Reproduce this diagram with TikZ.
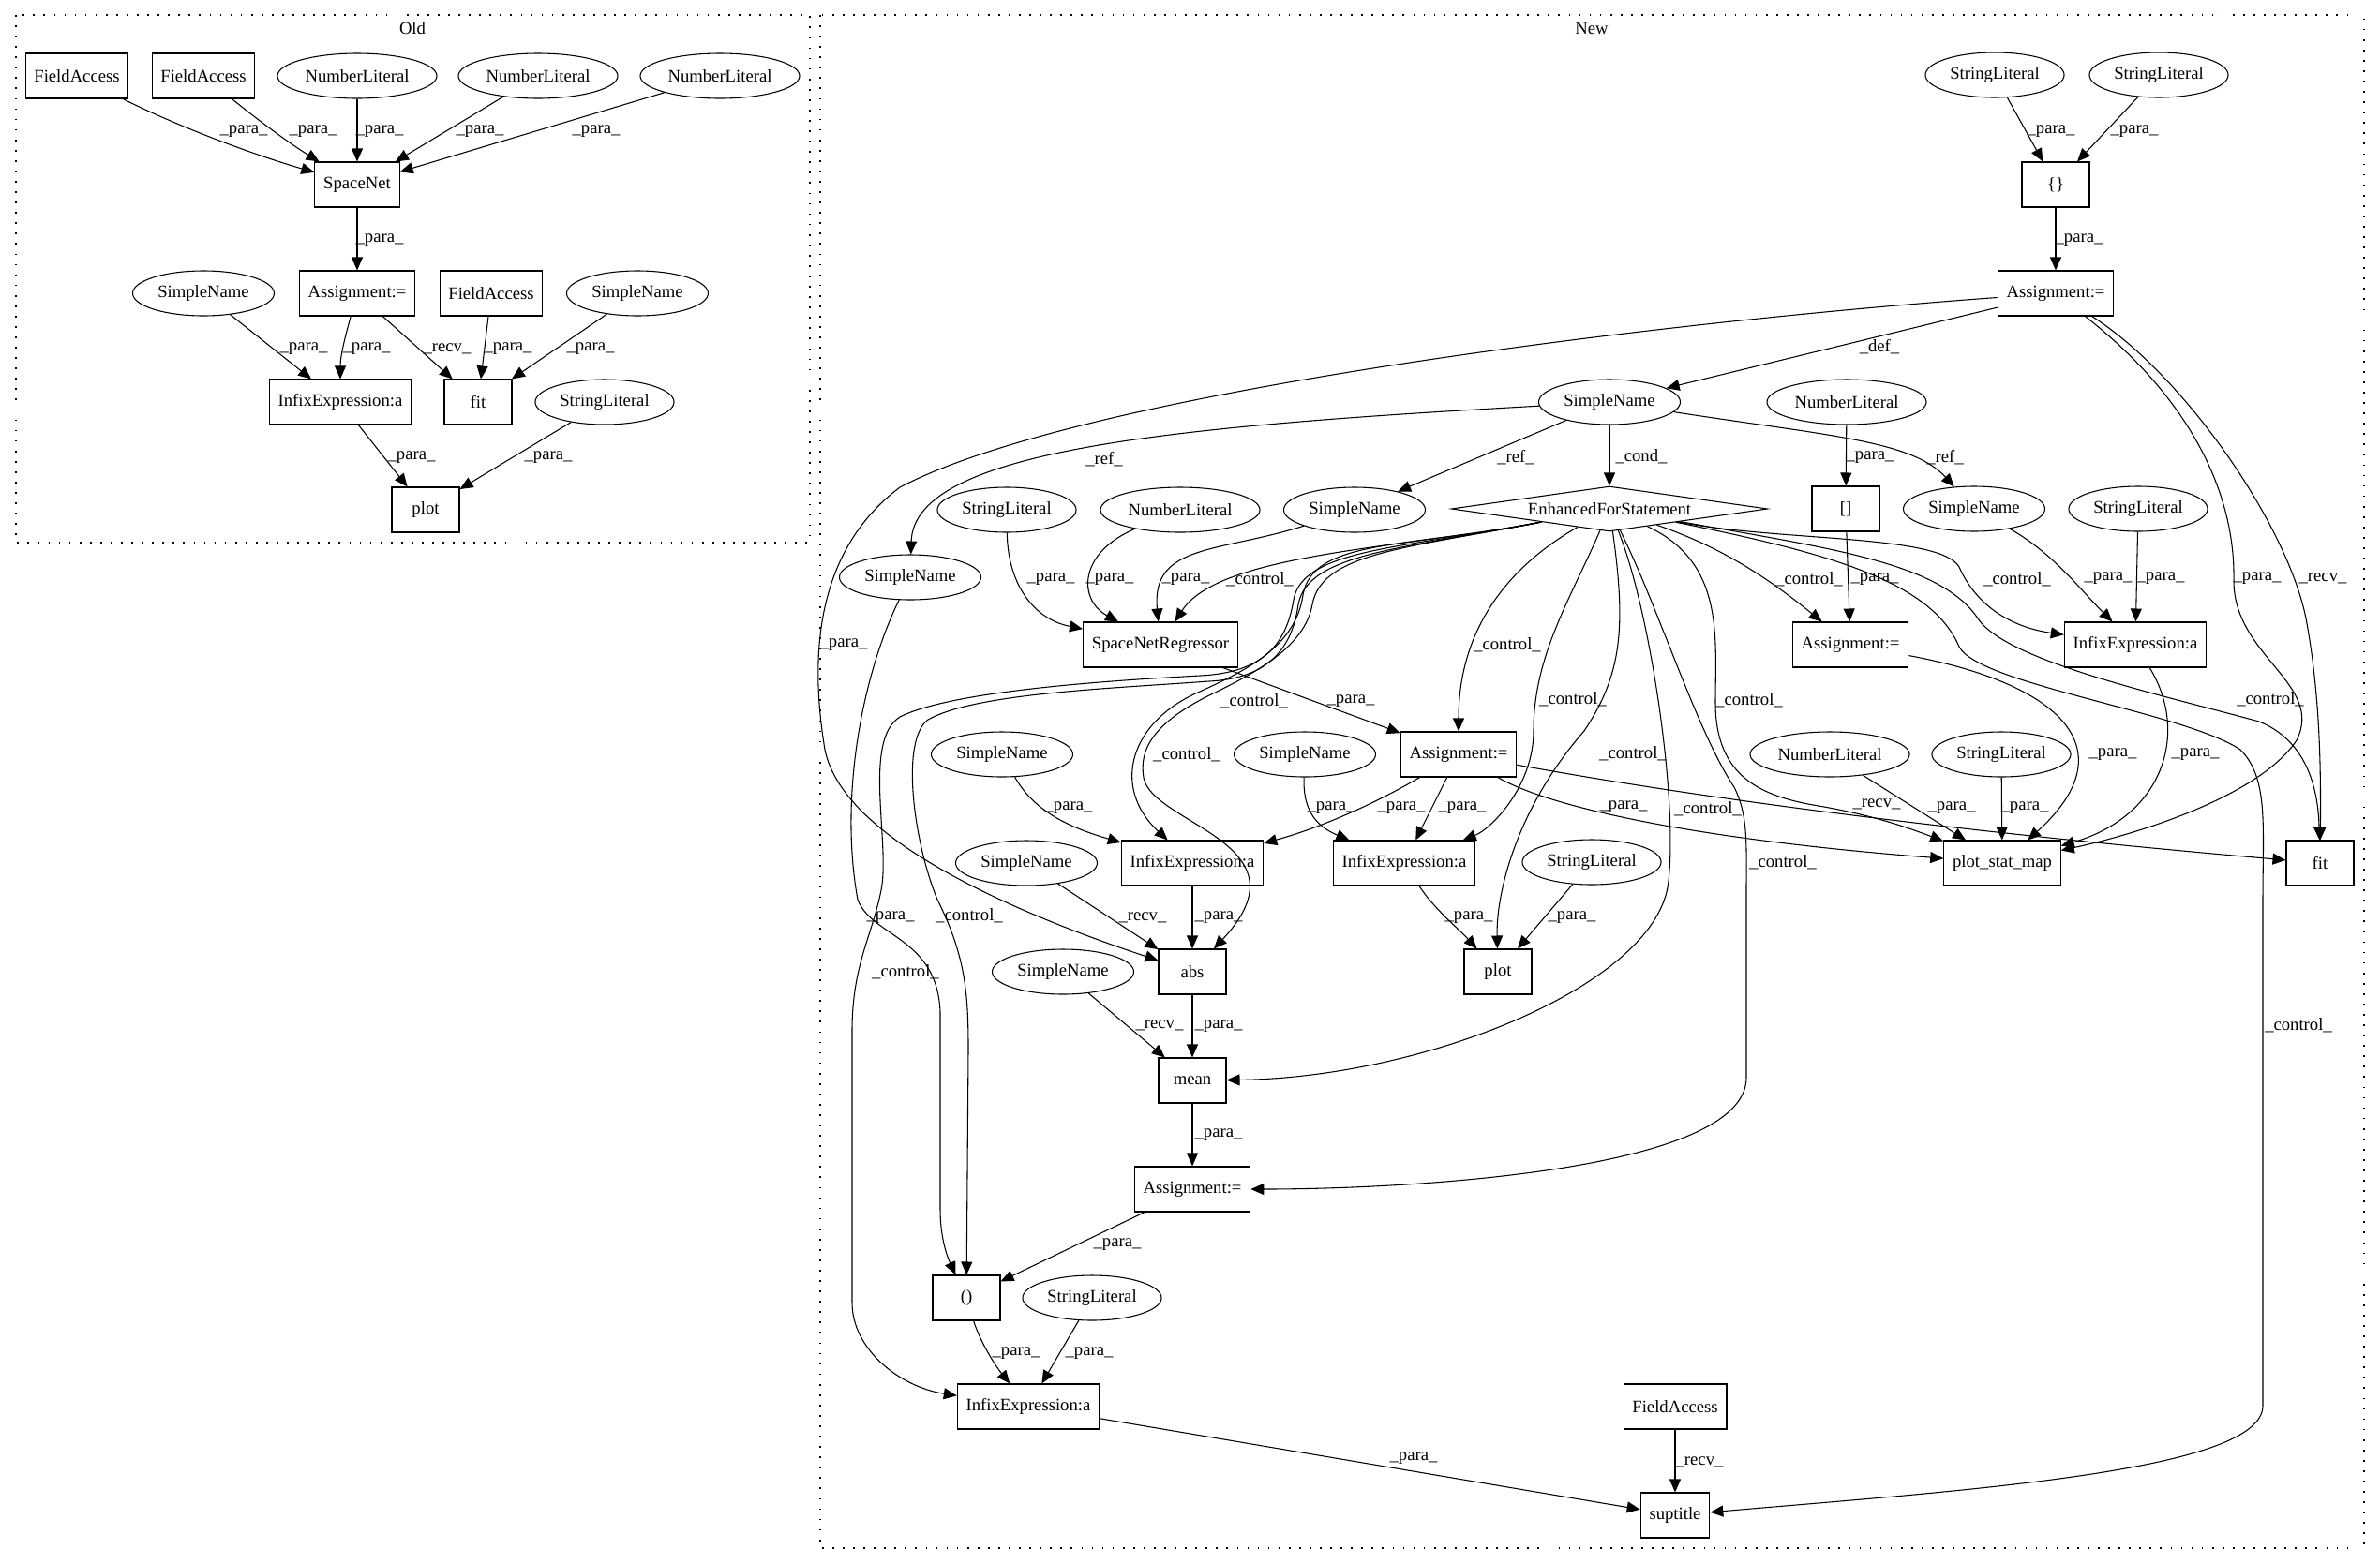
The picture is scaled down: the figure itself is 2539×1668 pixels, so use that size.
\documentclass[tikz,border=0pt]{standalone}
\usepackage{fontspec}
\setmainfont{Liberation Serif}
\usetikzlibrary{shapes.geometric, arrows.meta}
\tikzstyle{box} = [rectangle, draw, line width=0.8pt, minimum width=54pt, minimum height=36pt, inner xsep=7pt]
\tikzstyle{oval} = [ellipse, draw, line width=0.8pt, minimum height=36pt, inner xsep=3.5pt]
\tikzstyle{forstmt} = [diamond, draw, line width=0.8pt, aspect=7, inner sep=0pt, minimum width=253pt, minimum height=36pt]
\tikzstyle{arrow} = [line width=0.8pt, -{Triangle[length=10.5pt,width=9pt]}]
\tikzstyle{lbl} = [inner sep=0pt]
\tikzstyle{cluster} = [draw, line width=1pt, dash pattern=on 1.3pt off 7pt]
\begin{document}
\begin{tikzpicture}[x=0.75pt, y=-0.75pt, font=\fontsize{14}{16}\selectfont]
  \useasboundingbox (0,0) rectangle (2539,1668);

  \draw [cluster] (17,16) rectangle (864,579);
  \node (oldLbl) at (440,30) {Old};
  \draw [cluster] (875,16) rectangle (2522,1652);
  \node (newLbl) at (1698,30) {New};

  \node (oFA1) [box] at (82,81) {FieldAccess};
  \node (oFA2) [box] at (217,81) {FieldAccess};
  \node (oNL1) [oval] at (381,81) {NumberLiteral};
  \node (oNL2) [oval] at (574,81) {NumberLiteral};
  \node (oNL3) [oval] at (768,81) {NumberLiteral};
  \node (oSpaceNet) [box] at (381,197) {SpaceNet};
  \node (oSN1) [oval] at (217,313) {SimpleName};
  \node (oAssign) [box] at (381,313) {Assignment:=};
  \node (oFA3) [box] at (524,313) {FieldAccess};
  \node (oSN2) [oval] at (680,313) {SimpleName};
  \node (oInfix) [box] at (363,429) {InfixExpression:a};
  \node (oFit) [box] at (510,429) {fit};
  \node (oSL) [oval] at (645,429) {StringLiteral};
  \node (oPlot) [box] at (454,544) {plot};

  \draw [arrow] (oFA1) .. controls (190,135) and (270,165) .. (oSpaceNet) node [lbl, at={(260,140)}] {\_para\_};
  \draw [arrow] (oFA2) .. controls (290,140) and (320,160) .. (oSpaceNet) node [lbl, at={(334,140)}] {\_para\_};
  \draw [arrow] (oNL1) -- (oSpaceNet) node [lbl, at={(405,140)}] {\_para\_};
  \draw [arrow] (oNL2) -- (oSpaceNet) node [lbl, at={(512,140)}] {\_para\_};
  \draw [arrow] (oNL3) -- (oSpaceNet) node [lbl, at={(636,140)}] {\_para\_};
  \draw [arrow] (oSpaceNet) -- (oAssign) node [lbl, at={(405,256)}] {\_para\_};
  \draw [arrow] (oSN1) -- (oInfix) node [lbl, at={(324,372)}] {\_para\_};
  \draw [arrow] (oAssign) .. controls (368,360) and (363,380) .. (oInfix) node [lbl, at={(391,372)}] {\_para\_};
  \draw [arrow] (oAssign) -- (oFit) node [lbl, at={(477,372)}] {\_recv\_};
  \draw [arrow] (oFA3) -- (oFit) node [lbl, at={(542,372)}] {\_para\_};
  \draw [arrow] (oSN2) -- (oFit) node [lbl, at={(630,372)}] {\_para\_};
  \draw [arrow] (oInfix) -- (oPlot) node [lbl, at={(439,488)}] {\_para\_};
  \draw [arrow] (oSL) -- (oPlot) node [lbl, at={(585,488)}] {\_para\_};

  \node (nSL1) [oval] at (2128,80) {StringLiteral};
  \node (nSL2) [oval] at (2303,80) {StringLiteral};
  \node (nBrace) [box] at (2193,197) {\{\}};
  \node (nAssignTop) [box] at (2193,313) {Assignment:=};
  \node (nDef) [oval] at (1717,429) {SimpleName};
  \node (nNLtop) [oval] at (1970,429) {NumberLiteral};
  \node (nEFS) [forstmt] at (1717,543) {EnhancedForStatement};
  \node (nBracket) [box] at (1969,543) {[]};
  \node (nSNr) [oval] at (2106,543) {SimpleName};
  \node (nSLr) [oval] at (2281,543) {StringLiteral};
  \node (nSLl) [oval] at (1074,544) {StringLiteral};
  \node (nNLl) [oval] at (1259,544) {NumberLiteral};
  \node (nSNm) [oval] at (1445,544) {SimpleName};
  \node (nSNleft) [oval] at (971,616) {SimpleName};
  \node (nSNR) [box] at (1238,688) {SpaceNetRegressor};
  \node (nAssignR) [box] at (1974,688) {Assignment:=};
  \node (nInfixR) [box] at (2278,688) {InfixExpression:a};
  \node (nSNa) [oval] at (1069,805) {SimpleName};
  \node (nSNb) [oval] at (1392,805) {SimpleName};
  \node (nAssignM) [box] at (1556,805) {Assignment:=};
  \node (nNLp) [oval] at (1952,805) {NumberLiteral};
  \node (nSLp) [oval] at (2135,805) {StringLiteral};
  \node (nSNc) [oval] at (1095,921) {SimpleName};
  \node (nInfixL) [box] at (1272,921) {InfixExpression:a};
  \node (nInfixM) [box] at (1498,921) {InfixExpression:a};
  \node (nSLq) [oval] at (1698,920) {StringLiteral};
  \node (nPSM) [box] at (2136,921) {plot\_stat\_map};
  \node (nFit) [box] at (2475,921) {fit};
  \node (nSNd) [oval] at (1134,1037) {SimpleName};
  \node (nAbs) [box] at (1272,1037) {abs};
  \node (nPlot) [box] at (1598,1037) {plot};
  \node (nMean) [box] at (1272,1153) {mean};
  \node (nAssignL) [box] at (1272,1269) {Assignment:=};
  \node (nParen) [box] at (1031,1385) {()};
  \node (nSLs) [oval] at (1165,1385) {StringLiteral};
  \node (nInfixB) [box] at (1097,1501) {InfixExpression:a};
  \node (nFAb) [box] at (1787,1501) {FieldAccess};
  \node (nSup) [box] at (1787,1617) {suptitle};

  \draw [arrow] (nSL1) -- (nBrace) node [lbl, at={(2188,140)}] {\_para\_};
  \draw [arrow] (nSL2) -- (nBrace) node [lbl, at={(2277,140)}] {\_para\_};
  \draw [arrow] (nBrace) -- (nAssignTop) node [lbl, at={(2218,256)}] {\_para\_};
  \draw [arrow] (nAssignTop) -- (nDef) node [lbl, at={(2005,370)}] {\_def\_};
  \draw [arrow] (nAssignTop) .. controls (1750,345) and (1150,420) .. (960,520) .. controls (880,580) and (860,680) .. (880,800) .. controls (900,900) and (1100,980) .. (nAbs) node [lbl, at={(900,688)}] {\_para\_};
  \draw [arrow] (nAssignTop) .. controls (2330,420) and (2385,520) .. (2383,620) .. controls (2383,700) and (2480,730) .. (2450,790) .. controls (2410,850) and (2280,890) .. (nPSM) node [lbl, at={(2408,617)}] {\_para\_};
  \draw [arrow] (nAssignTop) .. controls (2330,400) and (2440,560) .. (2460,660) .. controls (2475,740) and (2476,820) .. (nFit) node [lbl, at={(2478,617)}] {\_recv\_};
  \draw [arrow] (nDef) -- (nEFS) node [lbl, at={(1751,487)}] {\_cond\_};
  \draw [arrow] (nDef) .. controls (1250,455) and (975,480) .. (nSNleft) node [lbl, at={(1178,490)}] {\_ref\_};
  \draw [arrow] (nDef) -- (nSNm) node [lbl, at={(1617,488)}] {\_ref\_};
  \draw [arrow] (nDef) .. controls (1950,465) and (2040,470) .. (nSNr) node [lbl, at={(2075,488)}] {\_ref\_};
  \draw [arrow] (nNLtop) -- (nBracket) node [lbl, at={(1995,488)}] {\_para\_};

  \draw [arrow] (nSLl) .. controls (1075,620) and (1100,660) .. (nSNR) node [lbl, at={(1121,618)}] {\_para\_};
  \draw [arrow] (nNLl) .. controls (1150,590) and (1150,640) .. (nSNR) node [lbl, at={(1184,618)}] {\_para\_};
  \draw [arrow] (nSNm) .. controls (1300,590) and (1228,580) .. (nSNR) node [lbl, at={(1265,618)}] {\_para\_};
  \draw [arrow] (nEFS) .. controls (1500,585) and (1300,590) .. (nSNR) node [lbl, at={(1344,618)}] {\_control\_};
  \draw [arrow] (nSNR) -- (nAssignM) node [lbl, at={(1441,748)}] {\_para\_};
  \draw [arrow] (nEFS) .. controls (1600,610) and (1556,680) .. (nAssignM) node [lbl, at={(1608,688)}] {\_control\_};
  \draw [arrow] (nEFS) .. controls (1840,585) and (1890,620) .. (nAssignR) node [lbl, at={(1930,618)}] {\_control\_};
  \draw [arrow] (nBracket) -- (nAssignR) node [lbl, at={(2000,618)}] {\_para\_};
  \draw [arrow] (nSNr) .. controls (2190,590) and (2220,630) .. (nInfixR) node [lbl, at={(2249,617)}] {\_para\_};
  \draw [arrow] (nSLr) -- (nInfixR) node [lbl, at={(2305,617)}] {\_para\_};
  \draw [arrow] (nEFS) .. controls (1900,578) and (2070,570) .. (2090,605) .. controls (2110,650) and (2150,670) .. (nInfixR) node [lbl, at={(2152,618)}] {\_control\_};
  \draw [arrow] (nEFS) .. controls (1950,585) and (2070,600) .. (2110,660) .. controls (2140,705) and (2300,740) .. (2410,770) .. controls (2460,790) and (2473,840) .. (nFit) node [lbl, at={(2422,746)}] {\_control\_};
  \draw [arrow] (nEFS) .. controls (1950,590) and (2060,620) .. (2090,690) .. controls (2110,730) and (2330,760) .. (2390,800) .. controls (2420,830) and (2414,880) .. (2414,960) -- (2414,1500) .. controls (2414,1570) and (2100,1590) .. (nSup) node [lbl, at={(2452,1094)}] {\_control\_};
  \draw [arrow] (nEFS) .. controls (1840,600) and (1830,680) .. (1830,750) .. controls (1830,830) and (1880,850) .. (1940,860) .. controls (2000,870) and (2040,885) .. (nPSM) node [lbl, at={(1866,747)}] {\_control\_};
  \draw [arrow] (nEFS) .. controls (1735,670) and (1730,720) .. (1690,780) .. controls (1620,860) and (1596,950) .. (nPlot) node [lbl, at={(1742,804)}] {\_control\_};
  \draw [arrow] (nEFS) .. controls (1675,640) and (1636,700) .. (1636,780) .. controls (1636,840) and (1590,885) .. (nInfixM) node [lbl, at={(1678,746)}] {\_control\_};
  \draw [arrow] (nEFS) .. controls (1760,650) and (1790,850) .. (1780,940) .. controls (1770,1050) and (1520,1150) .. (nMean) node [lbl, at={(1822,863)}] {\_control\_};
  \draw [arrow] (nEFS) .. controls (1770,650) and (1810,780) .. (1850,840) .. controls (1865,870) and (1863,900) .. (1863,950) -- (1863,1150) .. controls (1863,1250) and (1500,1269) .. (nAssignL) node [lbl, at={(1902,920)}] {\_control\_};
  \draw [arrow] (nEFS) .. controls (1500,585) and (1400,575) .. (1390,635) .. controls (1382,690) and (1330,715) .. (1280,738) .. controls (1205,770) and (1185,840) .. (nInfixL) node [lbl, at={(1338,748)}] {\_control\_};
  \draw [arrow] (nEFS) .. controls (1500,585) and (1410,590) .. (1400,645) .. controls (1392,690) and (1340,718) .. (1290,742) .. controls (1230,772) and (1215,800) .. (1220,830) .. controls (1230,880) and (1400,900) .. (nAbs) node [lbl, at={(1266,805)}] {\_control\_};
  \draw [arrow] (nEFS) .. controls (1500,585) and (1395,590) .. (1385,645) .. controls (1378,695) and (1350,724) .. (1290,727) .. controls (1180,735) and (1040,740) .. (990,768) .. controls (960,790) and (975,900) .. (1000,960) .. controls (1030,1020) and (1033,1060) .. (1033,1120) -- (nParen) node [lbl, at={(1034,977)}] {\_control\_};
  \draw [arrow] (nEFS) .. controls (1500,585) and (1390,585) .. (1380,640) .. controls (1372,690) and (1345,718) .. (1280,721) .. controls (1150,728) and (1010,740) .. (960,765) .. controls (920,790) and (950,900) .. (940,950) .. controls (930,1000) and (909,1030) .. (909,1100) -- (909,1390) .. controls (909,1440) and (960,1480) .. (nInfixB) node [lbl, at={(966,1037)}] {\_control\_};
  \draw [arrow] (nSNleft) .. controls (920,720) and (895,850) .. (915,960) .. controls (930,1000) and (1000,1000) .. (1003,1080) -- (1003,1290) .. controls (1003,1320) and (1010,1340) .. (nParen) node [lbl, at={(950,979)}] {\_para\_};

  \draw [arrow] (nSNa) .. controls (1100,860) and (1130,880) .. (nInfixL) node [lbl, at={(1140,862)}] {\_para\_};
  \draw [arrow] (nAssignM) .. controls (1480,850) and (1420,880) .. (nInfixL) node [lbl, at={(1495,862)}] {\_para\_};
  \draw [arrow] (nAssignM) -- (nInfixM) node [lbl, at={(1560,862)}] {\_para\_};
  \draw [arrow] (nSNb) .. controls (1390,860) and (1400,880) .. (nInfixM) node [lbl, at={(1420,862)}] {\_para\_};
  \draw [arrow] (nAssignM) .. controls (1650,860) and (1800,895) .. (nPSM) node [lbl, at={(1732,861)}] {\_para\_};
  \draw [arrow] (nAssignM) .. controls (1750,840) and (2000,880) .. (nFit) node [lbl, at={(2002,858)}] {\_recv\_};
  \draw [arrow] (nAssignR) .. controls (2200,730) and (2270,800) .. (nPSM) node [lbl, at={(2254,805)}] {\_para\_};
  \draw [arrow] (nInfixR) .. controls (2335,780) and (2310,870) .. (nPSM) node [lbl, at={(2342,805)}] {\_para\_};
  \draw [arrow] (nNLp) -- (nPSM) node [lbl, at={(2082,862)}] {\_para\_};
  \draw [arrow] (nSLp) -- (nPSM) node [lbl, at={(2160,862)}] {\_para\_};
  \draw [arrow] (nSLq) -- (nPlot) node [lbl, at={(1677,979)}] {\_para\_};
  \draw [arrow] (nInfixM) .. controls (1530,970) and (1555,990) .. (nPlot) node [lbl, at={(1567,979)}] {\_para\_};
  \draw [arrow] (nInfixL) -- (nAbs) node [lbl, at={(1300,979)}] {\_para\_};
  \draw [arrow] (nSNc) -- (nAbs) node [lbl, at={(1219,979)}] {\_recv\_};
  \draw [arrow] (nAbs) -- (nMean) node [lbl, at={(1300,1095)}] {\_para\_};
  \draw [arrow] (nSNd) -- (nMean) node [lbl, at={(1237,1094)}] {\_recv\_};
  \draw [arrow] (nMean) -- (nAssignL) node [lbl, at={(1300,1211)}] {\_para\_};
  \draw [arrow] (nAssignL) -- (nParen) node [lbl, at={(1192,1328)}] {\_para\_};
  \draw [arrow] (nParen) .. controls (1045,1430) and (1060,1455) .. (nInfixB) node [lbl, at={(1084,1444)}] {\_para\_};
  \draw [arrow] (nSLs) -- (nInfixB) node [lbl, at={(1162,1444)}] {\_para\_};
  \draw [arrow] (nInfixB) -- (nSup) node [lbl, at={(1508,1556)}] {\_para\_};
  \draw [arrow] (nFAb) -- (nSup) node [lbl, at={(1813,1560)}] {\_recv\_};
\end{tikzpicture}
\end{document}
